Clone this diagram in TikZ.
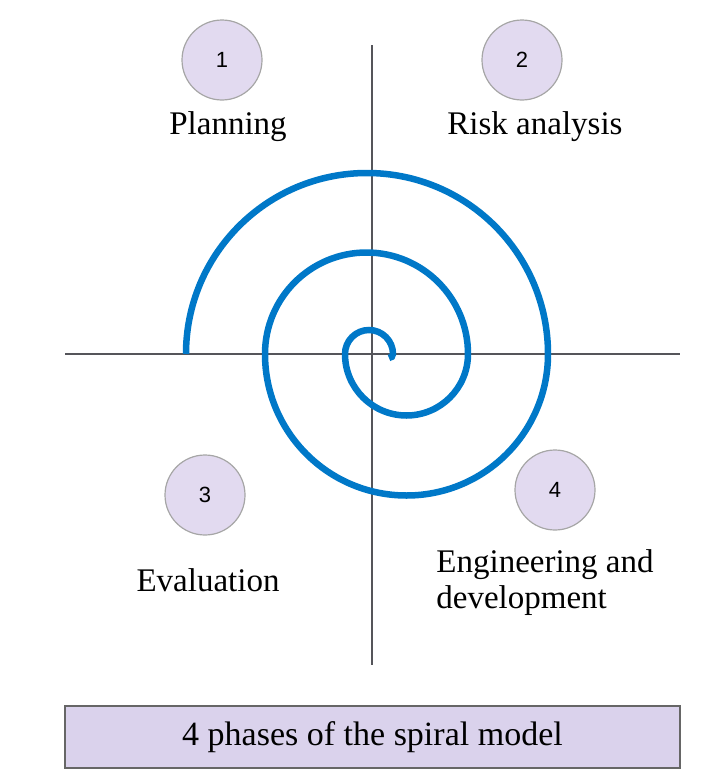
\documentclass[tikz,border=0pt]{standalone}
\usepackage{fontspec}
\setmainfont{Liberation Serif}
\newfontfamily\numfont{Liberation Sans}
\begin{document}
\begin{tikzpicture}[x=1pt,y=-1pt,
  num/.style={circle,draw=gray!70,line width=1.2pt,fill={rgb,255:red,226;green,218;blue,240},minimum size=80pt,inner sep=0pt,font=\numfont\fontsize{22}{26}\selectfont},
  lab/.style={font=\fontsize{33}{36}\selectfont,align=left},
  axis/.style={draw={rgb,255:red,85;green,85;blue,90},line width=2.8pt},
  spiral/.style={draw={rgb,255:red,0;green,120;blue,200},line width=6.5pt}]
\useasboundingbox (0,0) rectangle (720,779);
\coordinate (vt) at (372,45); \coordinate (vb) at (372,665);
\coordinate (hl) at (65,354); \coordinate (hr) at (680,354);
\draw[axis] (vt) -- (vb);
\draw[axis] (hl) -- (hr);
\coordinate (s0) at (186,354);
\draw[spiral] (s0) arc[start angle=-180,end angle=0,radius=181]
  arc[start angle=0,end angle=180,radius=141.5]
  arc[start angle=-180,end angle=0,radius=101.5]
  arc[start angle=0,end angle=180,radius=61.5]
  arc[start angle=-180,end angle=0,radius=24]
  arc[start angle=0,end angle=90,radius=4];
\node[num] (n1) at (222,60) {1};
\node[num] (n2) at (522,60) {2};
\node[num] (n3) at (205,495) {3};
\node[num] (n4) at (555,490) {4};
\node[lab] (l1) at (228,127) {Planning};
\node[lab] (l2) at (535,127) {Risk analysis};
\node[lab] (l3) at (208,580) {Evaluation};
\node[lab,align=left] (l4) at (545,583) {Engineering and\\development};
\node[draw=gray!80!black,line width=1.2pt,fill={rgb,255:red,218;green,210;blue,236},minimum width=615pt,minimum height=62pt,font=\fontsize{34}{38}\selectfont] (box) at (372.5,737) {4 phases of the spiral model};
\end{tikzpicture}
\end{document}
